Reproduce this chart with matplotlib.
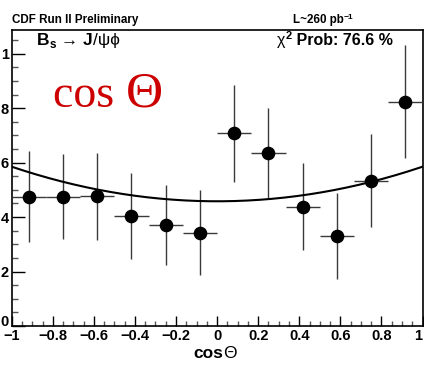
import numpy as np
import matplotlib.pyplot as plt
from matplotlib.ticker import MultipleLocator

# binned cos(Theta) distribution, 12 bins on [-1, 1]
bin_centers = [-0.917, -0.750, -0.583, -0.417, -0.250, -0.083,
               0.083, 0.250, 0.417, 0.583, 0.750, 0.917]
bin_values = [0.475, 0.475, 0.477, 0.404, 0.371, 0.343,
              0.708, 0.634, 0.438, 0.331, 0.534, 0.824]
bin_errors = [0.168, 0.157, 0.160, 0.157, 0.147, 0.157,
              0.178, 0.167, 0.160, 0.157, 0.172, 0.207]
bin_halfwidth = 1.0 / 12

# fitted shape a0 + a1*x + a2*x**2
fit_coeffs = [0.458, 0.0, 0.127]

xtick_vals = [-1, -0.8, -0.6, -0.4, -0.2, 0, 0.2, 0.4, 0.6, 0.8, 1]
xtick_text = ['\u22121', '\u22120.8', '\u22120.6', '\u22120.4', '\u22120.2', '0',
              '0.2', '0.4', '0.6', '0.8', '1']
ytick_vals = [0, 0.2, 0.4, 0.6, 0.8, 1.0]
ytick_text = ['0', '2', '4', '6', '8', '1']

plt.rcParams['font.family'] = ['Liberation Sans', 'DejaVu Sans']

W, H = 424, 366
fig = plt.figure(figsize=(W/100, H/100), dpi=100)
ax = fig.add_axes([11.7/W, 40/H, 410.8/W, 296/H])

# data points with full-bin horizontal bars
ax.errorbar(bin_centers, bin_values, yerr=bin_errors, xerr=bin_halfwidth,
            fmt='o', color='black', ecolor='#3a3a3a', elinewidth=1.0,
            markersize=8.8, capsize=0, zorder=3)

# fit curve
xs = np.linspace(-1, 1, 200)
ax.plot(xs, fit_coeffs[0] + fit_coeffs[1]*xs + fit_coeffs[2]*xs**2,
        color='black', lw=1.5, zorder=4)

ax.set_xlim(-1, 1)
ax.set_ylim(0, 1.087)
ax.set_xticks(xtick_vals)
ax.set_xticklabels(xtick_text, fontweight='bold', fontsize=10.5)
ax.get_xticklabels()[-1].set_ha('right')
ax.set_yticks(ytick_vals)
ax.set_yticklabels(ytick_text, fontweight='bold', fontsize=10.5)
# sit the "0" on the axis so it clears the "-1" below it
ax.get_yticklabels()[0].set_va('baseline')
ax.xaxis.set_minor_locator(MultipleLocator(0.05))
ax.yaxis.set_minor_locator(MultipleLocator(0.05))
ax.tick_params(which='both', direction='in', top=False, right=False)
ax.tick_params(axis='x', which='major', length=7, width=1, pad=2)
ax.tick_params(axis='x', which='minor', length=3.5, width=1, color='#555555')
ax.tick_params(axis='y', which='major', length=9, width=1, pad=2)
ax.tick_params(axis='y', which='minor', length=4.5, width=1, color='#555555')
for s in ax.spines.values():
    s.set_linewidth(1.2)

renderer = fig.canvas.get_renderer()


def chain(x, y, pieces, center=False):
    """write text pieces one after another; x, y in pixels from top-left"""
    arts = []
    for s, size, dy, kw in pieces:
        t = fig.text(0, 0, s, fontsize=size, ha='left', va='baseline', **kw)
        arts.append((t, dy))
    widths = [t.get_window_extent(renderer).width for t, _ in arts]
    if center:
        x -= sum(widths) / 2
    for (t, dy), w in zip(arts, widths):
        t.set_position((x / W, 1 - (y - dy) / H))
        x += w


bold = dict(fontweight='bold')
chain(215, 358, [('cos', 12.5, 0, bold), ('\u0398', 12.5, 0, {})], center=True)

# header texts
chain(12, 23.5, [('CDF Run II Preliminary', 8.4, 0, bold)])
chain(293, 23.5, [('L~260 pb', 8.4, 0, bold), ('\u22121', 6, 4.5, bold)])
chain(37, 45, [('B', 12.5, 0, bold), ('s', 8.5, -3, bold),
               (' \u2192 ', 12.5, 0, {}), ('J', 12.5, 0, bold),
               ('/\u03c8\u03d5', 12.5, 0, {})])
chain(277, 45, [('\u03c7', 11.5, 0, {}), ('2', 8, 6, bold),
                (' Prob: 76.6 %', 11.5, 0, bold)])
chain(53, 106.7, [('cos ', 33, 0, {'family': ['Liberation Serif']}),
                  ('\u0398', 37, 0, {'family': ['Liberation Serif']})])
for t in fig.texts[-2:]:
    t.set_color('#cc0000')

fig.savefig('out.png', dpi=100)
